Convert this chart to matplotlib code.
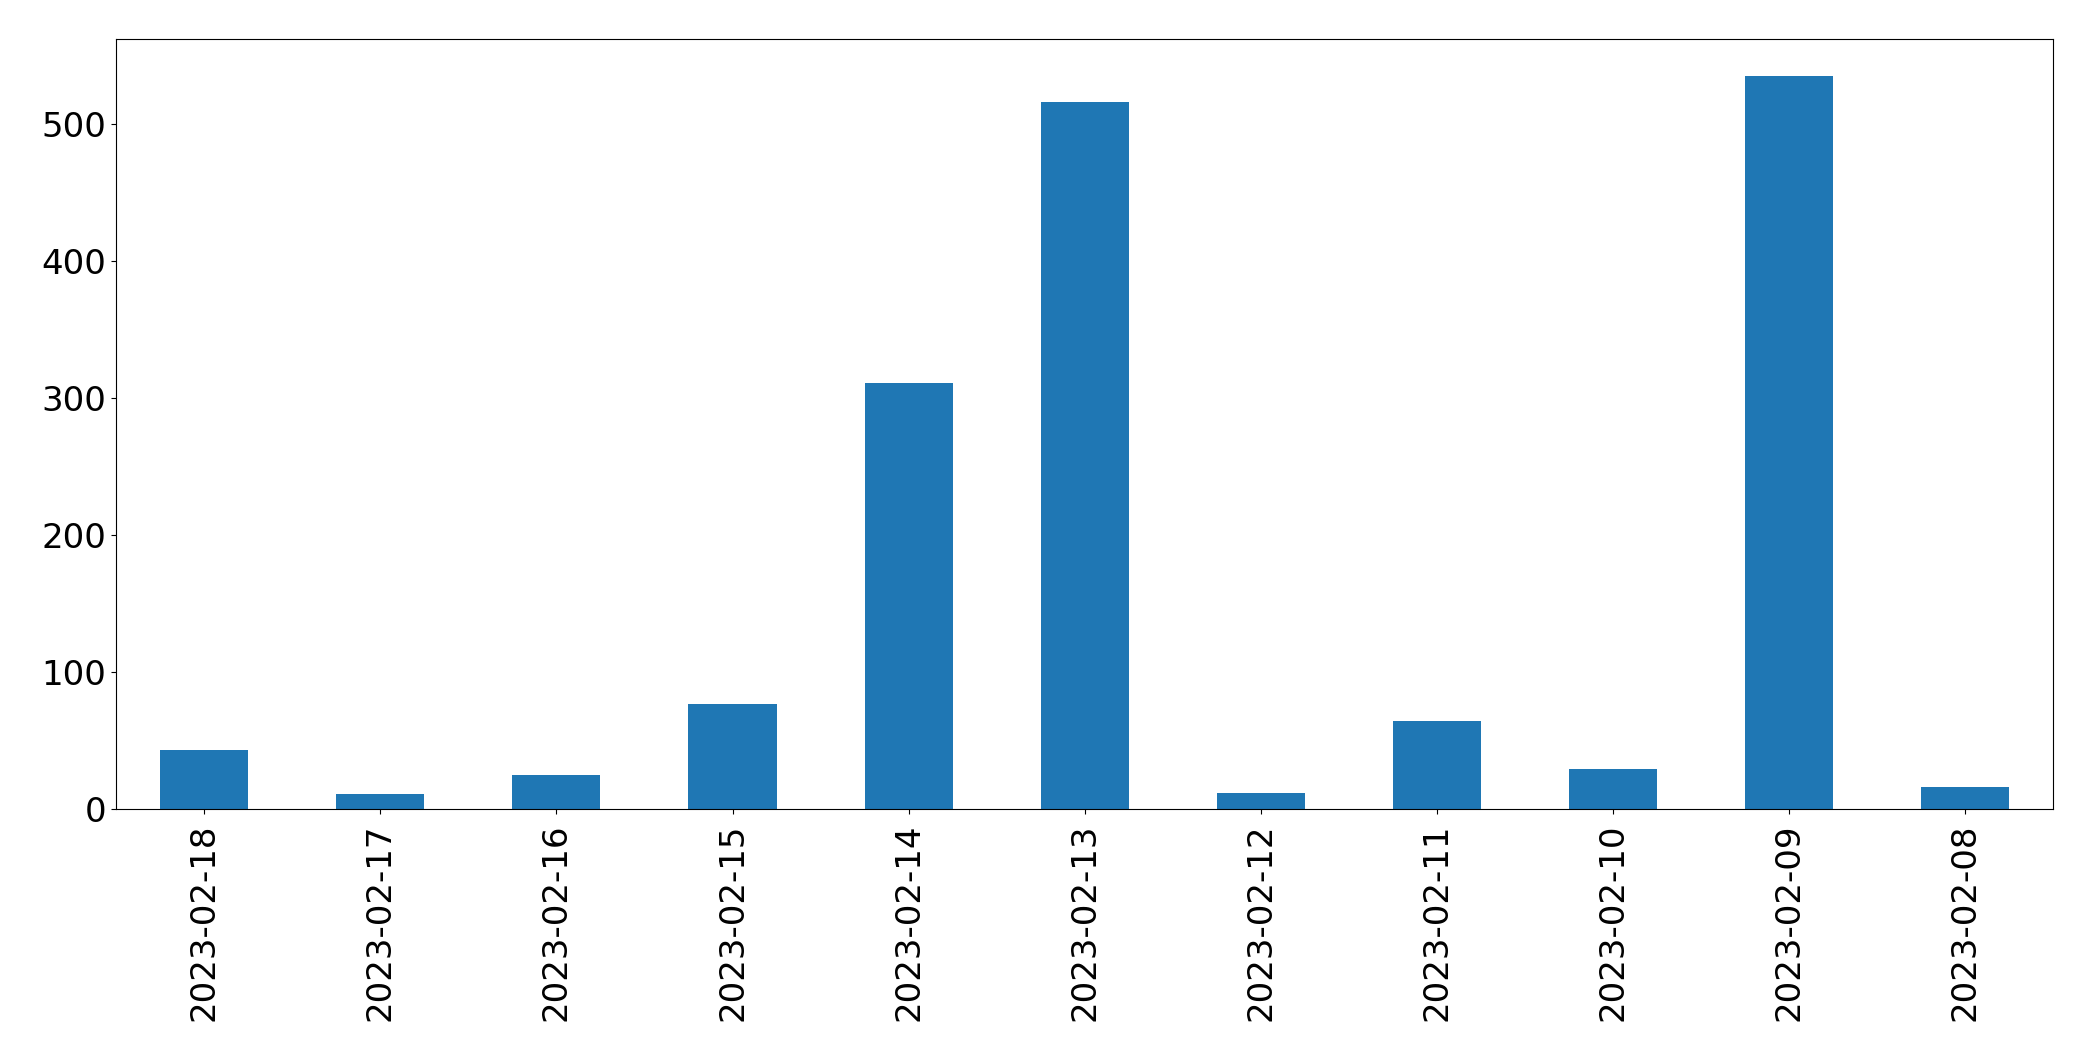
import matplotlib
matplotlib.use("Agg")
import matplotlib.pyplot as plt

# daily counts, newest first (as in the original)
dates = ["2023-02-18", "2023-02-17", "2023-02-16", "2023-02-15", "2023-02-14",
         "2023-02-13", "2023-02-12", "2023-02-11", "2023-02-10", "2023-02-09",
         "2023-02-08"]
counts = [43, 11, 25, 77, 311, 516, 12, 64, 29, 535, 16]

fig, ax = plt.subplots(figsize=(20.93, 10.61), dpi=100)
fig.subplots_adjust(left=0.0555, right=0.981, top=0.963, bottom=0.2375)

x = range(len(dates))
ax.bar(x, counts, width=0.5, color="#1f77b4")
ax.set_xlim(-0.5, len(dates) - 0.5)
ax.set_ylim(0, max(counts) * 1.05)
ax.set_xticks(list(x))
ax.set_xticklabels(dates, rotation=90)
ax.tick_params(axis="both", labelsize=24.5)
ax.tick_params(axis="x", pad=7)

fig.savefig("out.png")
